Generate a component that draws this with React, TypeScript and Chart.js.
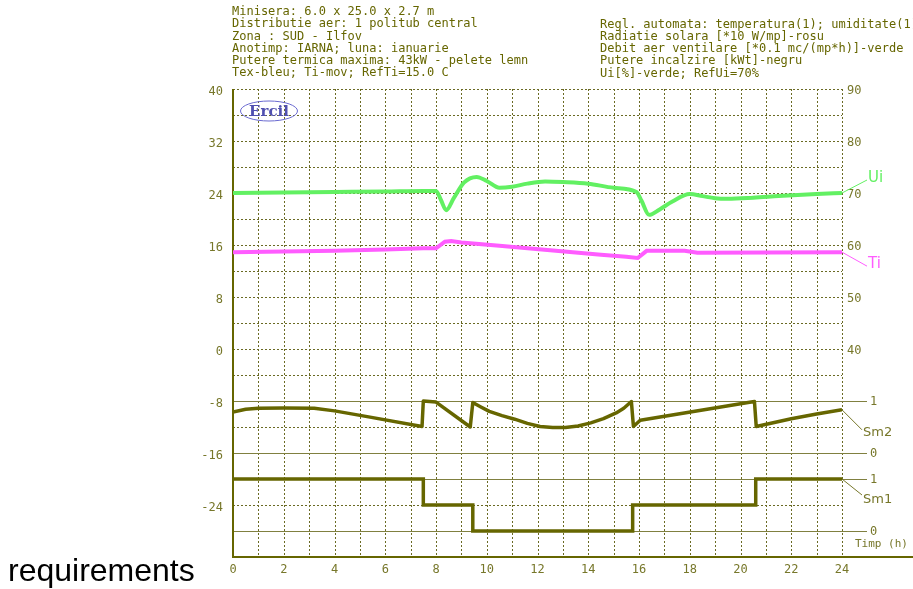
import React, { useEffect, useRef } from 'react';
import { Chart, registerables } from 'chart.js';

Chart.register(...registerables);

// ---------- header texts ----------
const headerLeft = [
  'Minisera: 6.0 x 25.0 x 2.7 m',
  'Distributie aer: 1 politub central',
  'Zona : SUD - Ilfov',
  'Anotimp: IARNA; luna: ianuarie',
  'Putere termica maxima: 43kW - pelete lemn',
  'Tex-bleu; Ti-mov; RefTi=15.0 C',
];
const headerRight = [
  'Regl. automata: temperatura(1); umiditate(1)',
  'Radiatie solara [*10 W/mp]-rosu',
  'Debit aer ventilare [*0.1 mc/(mp*h)]-verde',
  'Putere incalzire [kWt]-negru',
  'Ui[%]-verde; RefUi=70%',
];
const sideText = 'requirements';
const xAxisTitle = 'Timp (h)';
const logoText = 'Ercil';

// ---------- tick labels ----------
const xTicks = [0, 2, 4, 6, 8, 10, 12, 14, 16, 18, 20, 22, 24];
const leftTicks = [-24, -16, -8, 0, 8, 16, 24, 32, 40];
const rightTicks = [40, 50, 60, 70, 80, 90];
const smLevels = [1, 0];

// ---------- series ----------
// Ui [%] (right axis)
const uiHours = [0, 2, 4, 6, 7.5, 8.0, 8.2, 8.4, 8.7, 9.1, 9.6, 10.0, 10.5, 11.0, 11.6, 12.3, 13.0, 14.0, 15.0, 15.9, 16.1, 16.4, 16.8, 17.3, 18.0, 18.5, 19.0, 19.5, 20.5, 21.5, 23.0, 24];
const uiValues = [70.0, 70.1, 70.2, 70.3, 70.4, 70.4, 68.6, 66.7, 69.0, 72.0, 73.1, 72.3, 71.0, 71.2, 71.8, 72.2, 72.1, 71.8, 71.0, 70.2, 68.5, 65.8, 66.8, 68.3, 69.8, 69.4, 69.0, 68.9, 69.1, 69.4, 69.8, 70.0];

// Ti [C] (left axis)
const tiHours = [0, 2, 4, 6, 7.5, 8.0, 8.35, 8.6, 9.0, 10.5, 12.5, 14.5, 15.5, 15.95, 16.3, 17.8, 18.3, 24];
const tiValues = [14.9, 15.0, 15.1, 15.3, 15.5, 15.5, 16.5, 16.6, 16.4, 15.9, 15.2, 14.5, 14.2, 14.0, 15.1, 15.1, 14.8, 14.9];

// Sm2 state (0..1)
const sm2Hours = [0, 0.5, 1.0, 2.0, 3.2, 4.0, 5.4, 7.45, 7.5, 8.0, 9.35, 9.45, 9.75, 10.1, 10.6, 11.1, 11.6, 12.1, 12.6, 13.1, 13.6, 14.1, 14.6, 15.1, 15.4, 15.7, 15.78, 16.05, 20.3, 20.55, 20.62, 22.0, 23.0, 24];
const sm2Values = [0.79, 0.84, 0.86, 0.865, 0.86, 0.81, 0.69, 0.51, 1.0, 0.98, 0.5, 0.97, 0.89, 0.8, 0.72, 0.65, 0.57, 0.51, 0.49, 0.49, 0.52, 0.58, 0.66, 0.77, 0.86, 0.99, 0.51, 0.63, 0.97, 0.99, 0.51, 0.66, 0.75, 0.83];

// Sm1 state (0..1), stepped
const sm1Hours = [0, 7.5, 9.45, 15.75, 20.6, 24];
const sm1Values = [1, 0.5, 0, 0.5, 1, 1];

// ---------- styles ----------
const OLIVE_TEXT = '#666600';
const TICK_COL = '#77772a';
const GRID_COL = '#6a6a24';
const REF_COL = '#808040';
const AXIS_COL = '#666600';
const SERIES_OLIVE = '#666600';
const UI_COL = '#62f062';
const TI_COL = '#ff5cff';
const MONO = '"DejaVu Sans Mono", monospace';
const SANS = '"DejaVu Sans", sans-serif';

const pts = (h: number[], v: number[]) => h.map((x, i) => ({ x, y: v[i] }));

const decor = {
  id: 'decor',
  beforeDatasetsDraw(chart: any) {
    const { ctx, chartArea: a, scales } = chart;
    const y = scales.y;
    const x = scales.x;
    const line = (x1: number, y1: number, x2: number, y2: number) => {
      ctx.beginPath();
      ctx.moveTo(x1, y1);
      ctx.lineTo(x2, y2);
      ctx.stroke();
    };
    ctx.save();
    ctx.strokeStyle = GRID_COL;
    ctx.lineWidth = 1;
    ctx.setLineDash([2, 2]);
    for (let v = -28; v <= 40; v += 4) {
      const py = Math.round(y.getPixelForValue(v)) + 0.5;
      line(a.left, py, a.right, py);
    }
    for (let h = 1; h <= 24; h++) {
      const px = Math.round(x.getPixelForValue(h)) + 0.5;
      line(px, a.top, px, a.bottom);
    }
    ctx.setLineDash([]);
    ctx.strokeStyle = REF_COL;
    ctx.lineWidth = 1;
    ['ySm2', 'ySm1'].forEach((id) => {
      smLevels.forEach((lv) => {
        const py = Math.round(scales[id].getPixelForValue(lv)) + 0.5;
        line(a.left, py, a.right + 25, py);
      });
    });
    ctx.strokeStyle = AXIS_COL;
    ctx.lineWidth = 2;
    line(a.left, a.top, a.left, a.bottom + 1);
    line(a.left, a.bottom, chart.width, a.bottom);
    ctx.restore();
  },
  afterDatasetsDraw(chart: any) {
    const { ctx, chartArea: a, scales } = chart;
    ctx.save();
    // Sm level labels
    ctx.font = `12px ${MONO}`;
    ctx.fillStyle = TICK_COL;
    ctx.textAlign = 'left';
    ctx.textBaseline = 'middle';
    ['ySm2', 'ySm1'].forEach((id) => {
      smLevels.forEach((lv) => {
        const py = scales[id].getPixelForValue(lv);
        ctx.fillText(String(lv), a.right + 28, py + 1);
      });
    });
    // x axis title
    ctx.font = `11px ${MONO}`;
    ctx.fillText(xAxisTitle, a.right + 13, a.bottom - 13);

    // series leader labels
    const leaders = [
      { idx: 0, text: 'Ui', color: UI_COL, dx: 25, dy: -13, tdy: -15, font: `15px ${SANS}` },
      { idx: 1, text: 'Ti', color: TI_COL, dx: 25, dy: 14, tdy: 12, font: `15px ${SANS}` },
      { idx: 2, text: 'Sm2', color: TICK_COL, dx: 20, dy: 20, tdy: 23, font: `13px ${SANS}` },
      { idx: 3, text: 'Sm1', color: TICK_COL, dx: 20, dy: 16, tdy: 21, font: `13px ${SANS}` },
    ];
    leaders.forEach((l) => {
      const meta = chart.getDatasetMeta(l.idx);
      const p = meta.data[meta.data.length - 1];
      const x0 = a.right;
      const y0 = p.y;
      ctx.strokeStyle = l.color;
      ctx.lineWidth = 1;
      ctx.beginPath();
      ctx.moveTo(x0, y0);
      ctx.lineTo(x0 + l.dx, y0 + l.dy);
      ctx.stroke();
      ctx.fillStyle = l.color;
      ctx.font = l.font;
      ctx.textAlign = 'left';
      ctx.textBaseline = 'middle';
      ctx.fillText(l.text, x0 + l.dx + 1, y0 + l.tdy);
    });

    // logo
    const cx = a.left + 36;
    const cy = a.top + 22;
    ctx.strokeStyle = '#6a6ad0';
    ctx.lineWidth = 1;
    ctx.beginPath();
    ctx.ellipse(cx, cy, 28.5, 10, 0, 0, Math.PI * 2);
    ctx.stroke();
    ctx.fillStyle = '#5050b0';
    ctx.font = `bold 15px "DejaVu Serif", serif`;
    ctx.textAlign = 'center';
    ctx.textBaseline = 'middle';
    ctx.fillText(logoText, cx, cy + 1);
    ctx.restore();
  },
};

export default function App() {
  const ref = useRef<HTMLCanvasElement>(null);
  useEffect(() => {
    const tickFont = { family: MONO, size: 12 };
    const chart = new Chart(ref.current as HTMLCanvasElement, {
      type: 'line',
      data: {
        datasets: [
          {
            label: 'Ui',
            data: pts(uiHours, uiValues),
            yAxisID: 'yR',
            borderColor: UI_COL,
            borderWidth: 4,
            pointRadius: 0,
            cubicInterpolationMode: 'monotone',
          },
          {
            label: 'Ti',
            data: pts(tiHours, tiValues),
            yAxisID: 'y',
            borderColor: TI_COL,
            borderWidth: 4,
            pointRadius: 0,
            tension: 0,
          },
          {
            label: 'Sm2',
            data: pts(sm2Hours, sm2Values),
            yAxisID: 'ySm2',
            borderColor: SERIES_OLIVE,
            borderWidth: 3.5,
            pointRadius: 0,
            tension: 0,
            borderJoinStyle: 'round',
          },
          {
            label: 'Sm1',
            data: pts(sm1Hours, sm1Values),
            yAxisID: 'ySm1',
            borderColor: SERIES_OLIVE,
            borderWidth: 3.5,
            pointRadius: 0,
            stepped: 'before',
          },
        ],
      },
      options: {
        animation: false,
        responsive: false,
        layout: { padding: { top: 89, left: 0, right: 0, bottom: 0 } },
        plugins: { legend: { display: false }, tooltip: { enabled: false } },
        scales: {
          x: {
            type: 'linear',
            min: 0,
            max: 24,
            afterFit: (s: any) => { s.height = 32; },
            afterBuildTicks: (s: any) => { s.ticks = xTicks.map((v) => ({ value: v })); },
            ticks: { font: tickFont, color: TICK_COL, padding: 6, maxRotation: 0, autoSkip: false },
            grid: { display: false, drawTicks: false },
            border: { display: false },
          },
          y: {
            position: 'left',
            min: -32,
            max: 40,
            afterFit: (s: any) => { s.width = 233; },
            afterBuildTicks: (s: any) => { s.ticks = leftTicks.map((v) => ({ value: v })); },
            ticks: { font: tickFont, color: TICK_COL, padding: 10, labelOffset: 3, autoSkip: false },
            grid: { display: false, drawTicks: false },
            border: { display: false },
          },
          yR: {
            position: 'right',
            min: 0,
            max: 90,
            afterFit: (s: any) => { s.width = 71; },
            afterBuildTicks: (s: any) => { s.ticks = rightTicks.map((v) => ({ value: v })); },
            ticks: { font: tickFont, color: TICK_COL, padding: 5, labelOffset: 2, autoSkip: false },
            grid: { display: false, drawTicks: false },
            border: { display: false },
          },
          ySm2: { display: false, min: -2, max: 7 },
          ySm1: { display: false, min: -0.5, max: 8.5 },
        },
      } as any,
      plugins: [decor],
    });
    return () => chart.destroy();
  }, []);

  const headStyle: React.CSSProperties = {
    position: 'absolute',
    fontFamily: MONO,
    fontSize: 12,
    lineHeight: '12.3px',
    color: OLIVE_TEXT,
    whiteSpace: 'pre',
    margin: 0,
  };

  return (
    <div style={{ position: 'absolute', left: 0, top: 0, width: 913, height: 589, overflow: 'hidden', background: '#fff' }}>
      <canvas ref={ref} width={913} height={589} style={{ position: 'absolute', left: 0, top: 0, display: 'block' }} />
      <div style={{ ...headStyle, left: 232, top: 5 }}>{headerLeft.join('\n')}</div>
      <div style={{ ...headStyle, left: 600, top: 17.5 }}>{headerRight.join('\n')}</div>
      <div
        style={{
          position: 'absolute',
          left: 8,
          top: 554,
          fontFamily: '"Liberation Sans", Arial, sans-serif',
          fontSize: 32,
          lineHeight: '32px',
          color: '#000',
          whiteSpace: 'nowrap',
        }}
      >
        {sideText}
      </div>
    </div>
  );
}
